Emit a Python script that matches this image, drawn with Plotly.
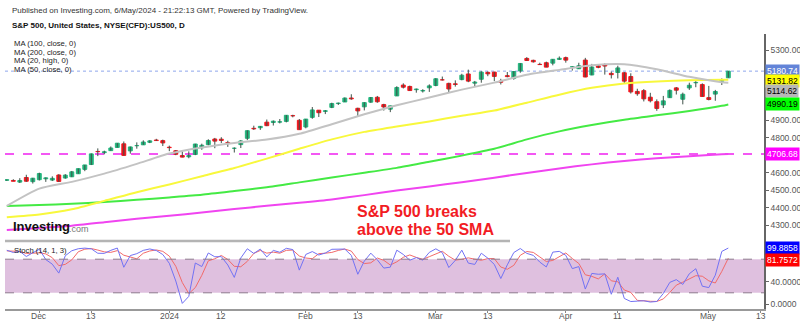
import numpy as np
import plotly.graph_objects as go

# ---------------- data ----------------
dates = [
    "2023-11-24", "2023-11-27", "2023-11-28", "2023-11-29", "2023-11-30",
    "2023-12-01", "2023-12-04", "2023-12-05", "2023-12-06", "2023-12-07", "2023-12-08",
    "2023-12-11", "2023-12-12", "2023-12-13", "2023-12-14", "2023-12-15",
    "2023-12-18", "2023-12-19", "2023-12-20", "2023-12-21", "2023-12-22",
    "2023-12-26", "2023-12-27", "2023-12-28", "2023-12-29",
    "2024-01-02", "2024-01-03", "2024-01-04", "2024-01-05",
    "2024-01-08", "2024-01-09", "2024-01-10", "2024-01-11", "2024-01-12",
    "2024-01-16", "2024-01-17", "2024-01-18", "2024-01-19",
    "2024-01-22", "2024-01-23", "2024-01-24", "2024-01-25", "2024-01-26",
    "2024-01-29", "2024-01-30", "2024-01-31", "2024-02-01", "2024-02-02",
    "2024-02-05", "2024-02-06", "2024-02-07", "2024-02-08", "2024-02-09",
    "2024-02-12", "2024-02-13", "2024-02-14", "2024-02-15", "2024-02-16",
    "2024-02-20", "2024-02-21", "2024-02-22", "2024-02-23",
    "2024-02-26", "2024-02-27", "2024-02-28", "2024-02-29", "2024-03-01",
    "2024-03-04", "2024-03-05", "2024-03-06", "2024-03-07", "2024-03-08",
    "2024-03-11", "2024-03-12", "2024-03-13", "2024-03-14", "2024-03-15",
    "2024-03-18", "2024-03-19", "2024-03-20", "2024-03-21", "2024-03-22",
    "2024-03-25", "2024-03-26", "2024-03-27", "2024-03-28",
    "2024-04-01", "2024-04-02", "2024-04-03", "2024-04-04", "2024-04-05",
    "2024-04-08", "2024-04-09", "2024-04-10", "2024-04-11", "2024-04-12",
    "2024-04-15", "2024-04-16", "2024-04-17", "2024-04-18", "2024-04-19",
    "2024-04-22", "2024-04-23", "2024-04-24", "2024-04-25", "2024-04-26",
    "2024-04-29", "2024-04-30", "2024-05-01", "2024-05-02", "2024-05-03",
    "2024-05-06",
]
opens = [
    4555.84, 4554.86, 4545.55, 4571.84, 4548.04,
    4559.43, 4564.37, 4557.25, 4586.23, 4568.84, 4576.20,
    4593.39, 4618.30, 4646.20, 4721.04, 4714.23,
    4725.58, 4743.72, 4764.73, 4724.29, 4753.92,
    4758.86, 4773.45, 4786.44, 4782.88,
    4745.20, 4725.07, 4697.42, 4690.57,
    4703.70, 4741.93, 4759.94, 4792.13, 4791.18,
    4772.35, 4739.13, 4760.10, 4796.28,
    4853.42, 4856.80, 4888.56, 4886.66, 4888.91,
    4892.95, 4925.89, 4899.19, 4861.11, 4916.06,
    4957.19, 4950.16, 4973.05, 4995.16, 5004.17,
    5026.83, 4967.94, 4976.44, 5003.14, 5031.13,
    4989.32, 4963.03, 5038.83, 5100.92,
    5093.00, 5074.60, 5067.20, 5085.36, 5098.51,
    5130.99, 5110.52, 5108.03, 5132.38, 5164.46,
    5111.96, 5134.30, 5173.49, 5175.14, 5123.31,
    5154.77, 5139.09, 5181.69, 5253.43, 5242.48,
    5219.52, 5228.85, 5226.31, 5248.03,
    5257.97, 5204.29, 5194.37, 5244.05, 5158.95,
    5211.37, 5217.03, 5167.88, 5172.95, 5171.51,
    5149.67, 5064.59, 5068.97, 5031.52, 5005.44,
    4987.33, 5028.85, 5084.86, 5019.88, 5084.65,
    5114.13, 5103.78, 5029.03, 5049.32, 5122.78,
    5142.42,
]
highs = [
    4560.31, 4562.06, 4568.14, 4587.64, 4569.89,
    4599.39, 4572.37, 4578.56, 4590.74, 4590.92, 4609.23,
    4623.71, 4643.93, 4709.69, 4738.57, 4725.53,
    4749.52, 4768.69, 4778.01, 4748.71, 4772.94,
    4784.72, 4785.39, 4793.30, 4788.43,
    4754.33, 4729.29, 4726.78, 4721.49,
    4764.54, 4765.47, 4790.80, 4798.50, 4802.40,
    4782.34, 4744.23, 4785.79, 4842.07,
    4868.41, 4866.48, 4903.68, 4898.15, 4906.69,
    4929.31, 4931.09, 4906.75, 4906.97, 4975.29,
    4957.19, 4957.77, 4999.89, 5000.40, 5030.06,
    5048.39, 4971.30, 5002.52, 5032.72, 5038.70,
    4993.71, 4983.21, 5094.39, 5111.06,
    5097.66, 5080.69, 5077.37, 5104.99, 5140.33,
    5149.67, 5114.54, 5127.97, 5165.62, 5189.26,
    5124.66, 5179.87, 5179.14, 5176.85, 5136.86,
    5175.60, 5180.31, 5226.19, 5261.10, 5246.09,
    5229.09, 5235.16, 5249.26, 5264.85,
    5263.95, 5208.34, 5228.75, 5256.59, 5222.18,
    5219.57, 5224.81, 5178.43, 5211.78, 5175.03,
    5168.43, 5079.84, 5077.96, 5056.66, 5019.02,
    5038.84, 5076.12, 5089.48, 5057.75, 5114.62,
    5123.49, 5110.83, 5096.12, 5073.21, 5139.12,
    5181.00,
]
lows = [
    4552.80, 4551.01, 4540.51, 4547.15, 4537.24,
    4554.71, 4546.72, 4551.68, 4546.50, 4565.22, 4574.06,
    4593.39, 4608.09, 4643.23, 4694.34, 4704.69,
    4725.58, 4743.72, 4697.82, 4708.35, 4736.77,
    4758.45, 4768.90, 4780.98, 4751.99,
    4722.67, 4699.71, 4687.53, 4682.11,
    4699.82, 4730.35, 4756.20, 4739.58, 4768.98,
    4747.12, 4714.82, 4740.57, 4785.87,
    4844.05, 4844.37, 4865.94, 4869.34, 4881.47,
    4887.40, 4916.27, 4845.15, 4853.52, 4907.99,
    4918.09, 4934.88, 4969.05, 4987.09, 5004.17,
    5016.83, 4920.31, 4955.87, 4999.44, 4999.52,
    4955.02, 4946.00, 5038.83, 5081.46,
    5068.91, 5057.29, 5058.35, 5061.89, 5094.16,
    5127.18, 5056.82, 5092.22, 5128.21, 5117.50,
    5091.14, 5114.48, 5151.88, 5123.30, 5104.35,
    5145.47, 5131.59, 5171.55, 5240.66, 5229.87,
    5216.09, 5203.42, 5213.92, 5245.82,
    5229.20, 5184.05, 5194.37, 5146.06, 5157.21,
    5197.35, 5160.78, 5138.70, 5138.77, 5107.94,
    5052.47, 5039.83, 5007.25, 5001.89, 4953.56,
    4969.40, 5027.96, 5047.02, 4990.58, 5073.14,
    5088.65, 5035.31, 5013.45, 5011.05, 5101.22,
    5142.42,
]
closes = [
    4559.34, 4550.43, 4554.89, 4550.58, 4567.80,
    4594.63, 4569.78, 4567.18, 4549.34, 4585.59, 4604.37,
    4622.44, 4643.70, 4707.09, 4719.55, 4719.19,
    4740.56, 4768.37, 4698.35, 4746.75, 4754.63,
    4774.75, 4781.58, 4783.35, 4769.83,
    4742.83, 4704.81, 4688.68, 4697.24,
    4763.54, 4756.50, 4783.45, 4780.24, 4783.83,
    4765.98, 4739.21, 4780.94, 4839.81,
    4850.43, 4864.60, 4868.55, 4894.16, 4890.97,
    4927.93, 4924.97, 4845.65, 4906.19, 4958.61,
    4942.81, 4954.23, 4995.06, 4997.91, 5026.61,
    5021.84, 4953.17, 5000.62, 5029.73, 5005.57,
    4975.51, 4981.80, 5087.03, 5088.80,
    5069.53, 5078.18, 5069.76, 5096.27, 5137.08,
    5130.95, 5078.65, 5104.76, 5157.36, 5123.69,
    5117.94, 5175.27, 5165.31, 5150.48, 5117.09,
    5149.42, 5178.51, 5224.62, 5241.53, 5234.18,
    5218.19, 5203.58, 5248.49, 5254.35,
    5243.77, 5205.81, 5211.49, 5147.21, 5204.34,
    5202.39, 5209.91, 5160.64, 5199.06, 5123.41,
    5061.82, 5051.41, 5022.21, 5011.12, 4967.23,
    5010.60, 5070.55, 5071.63, 5048.42, 5099.96,
    5116.17, 5035.69, 5018.39, 5064.20, 5127.79,
    5180.74,
]

# Stochastic (14, 1, 3): %K and %D per session
stoch_k = [96.0, 92.0, 94.0, 84.8, 91.5, 97.7, 79.3, 71.1, 55.1, 86.2, 95.1, 98.7, 99.8, 98.5, 90.6, 90.4,
           95.8, 99.9, 65.6, 86.5, 89.9, 95.8, 98.3, 95.5, 88.3, 72.7, 41.0, 1.1, 13.6, 73.2, 66.9, 91.1,
           84.3, 84.6, 69.7, 47.5, 82.2, 98.6, 90.3, 98.0, 84.1, 95.7, 92.4, 99.4, 97.2, 60.5, 88.5, 93.6,
           87.5, 91.0, 97.7, 98.4, 98.1, 86.9, 53.1, 76.5, 90.8, 78.9, 64.1, 65.8, 96.1, 88.5, 78.2, 82.8,
           78.3, 92.2, 98.5, 91.8, 65.1, 77.9, 96.2, 73.0, 70.7, 90.7, 81.9, 70.7, 45.5, 69.9, 91.9, 99.1,
           90.4, 86.8, 74.8, 66.2, 92.6, 94.0, 86.9, 63.2, 66.8, 26.7, 54.6, 53.1, 53.8, 17.4, 47.8, 9.9,
           4.4, 5.1, 5.8, 3.5, 4.5, 18.8, 38.6, 43.5, 35.0, 54.0, 63.0, 31.8, 29.3, 51.5, 93.9, 99.8858]
stoch_d = [94.8, 94.3, 94.0, 90.2, 90.1, 91.3, 89.5, 82.7, 68.5, 70.8, 78.8, 93.3, 97.9, 99.0, 96.3, 93.1,
           92.2, 95.3, 87.1, 84.0, 80.7, 90.7, 94.7, 96.5, 94.0, 85.5, 67.3, 38.3, 18.6, 29.3, 51.2, 77.1,
           80.8, 86.7, 79.5, 67.3, 66.5, 76.1, 90.4, 95.6, 90.8, 92.6, 90.7, 95.8, 96.3, 85.7, 82.1, 80.9,
           89.9, 90.7, 92.1, 95.7, 98.1, 94.5, 79.4, 72.2, 73.5, 82.1, 78.0, 69.6, 75.3, 83.4, 87.6, 83.2,
           79.8, 84.5, 89.7, 94.2, 85.2, 78.3, 79.8, 82.4, 80.0, 78.1, 81.1, 81.1, 66.0, 62.0, 69.1, 87.0,
           93.8, 92.1, 84.0, 75.9, 77.8, 84.2, 91.1, 81.3, 72.3, 52.2, 49.4, 44.8, 53.8, 41.4, 39.7, 25.0,
           20.7, 6.5, 5.1, 4.8, 4.6, 9.0, 20.6, 33.7, 39.0, 44.2, 50.6, 49.6, 41.4, 37.5, 58.2, 81.7572]

# moving averages read at every 5th session (+ last)
ma20_high = [4409, 4508, 4547, 4594, 4650, 4709, 4744, 4770, 4789, 4822, 4877, 4934,
             4985, 5030, 5075, 5115, 5160, 5188, 5214, 5220, 5191, 5148, 5117, 5114.62]
ma50 = [4344, 4360, 4390, 4438, 4488, 4532, 4579, 4626, 4680, 4736, 4790, 4833,
        4864, 4893, 4925, 4955, 5000, 5046, 5085, 5110, 5122, 5128, 5131, 5131.82]
ma100 = [4409, 4414, 4421, 4432, 4444, 4458, 4473, 4494, 4516, 4544, 4572, 4599,
         4627, 4662, 4697, 4736, 4790, 4836, 4872, 4903, 4928, 4952, 4982, 4990.19]
ma200 = [4271, 4283, 4296, 4316, 4336, 4353, 4371, 4391, 4410, 4427, 4446, 4471,
         4497, 4521, 4545, 4571, 4598, 4624, 4647, 4667, 4682, 4694, 4705, 4706.68]
ma_dates = dates[::5] + [dates[-1]]

tick_dates = ["2023-12-01", "2023-12-13", "2024-01-02", "2024-01-12", "2024-02-01", "2024-02-13",
              "2024-03-01", "2024-03-13", "2024-04-01", "2024-04-11", "2024-05-01", "2024-05-13"]
tick_text = ["Dec", "13", "2024", "12", "Feb", "13", "Mar", "13", "Apr", "11", "May", "13"]
holidays = ["2023-12-25", "2024-01-01", "2024-01-15", "2024-02-19", "2024-03-29"]
price_ticks = [4300, 4400, 4500, 4600, 4800, 4900, 5300]
stoch_ticks = [0, 40]
stoch_levels = [20, 80]

assert len(dates) == len(opens) == len(highs) == len(lows) == len(closes) == len(stoch_k) == len(stoch_d)

# ---------------- helpers ----------------
def pos(d):
    return int(np.busday_count(dates[0], d, holidays=holidays))

xs = [pos(d) for d in dates]
ma_x = [pos(d) for d in ma_dates]
tick_x = [pos(d) for d in tick_dates]

W, Hh = 800, 323
ML, MR, MT, MB = 5, 36, 34, 14
PW, PH = W - ML - MR, Hh - MT - MB
def px(x):
    return (x - ML) / PW
def py(y):
    return (Hh - MB - y) / PH

split = py(241)
UP, DN = "#22b47c", "#f2141c"
FONT = "Liberation Sans, Arial, sans-serif"

fig = go.Figure()

# wicks
wx, wy = [], []
for x, h, l in zip(xs, highs, lows):
    wx += [x, x, None]
    wy += [l, h, None]
fig.add_trace(go.Scatter(x=wx, y=wy, mode="lines", line=dict(color="#3f5249", width=1),
                         hoverinfo="skip", xaxis="x", yaxis="y"))

# MAs
for vals, col in [(ma200, "#f044f0"), (ma100, "#44ea44"), (ma50, "#f8f83c"), (ma20_high, "#c3c3c3")]:
    fig.add_trace(go.Scatter(x=ma_x, y=vals, mode="lines",
                             line=dict(color=col, width=2, shape="spline", smoothing=0.6),
                             hoverinfo="skip", xaxis="x", yaxis="y"))

# bodies
cols = [UP if c >= o else DN for o, c in zip(opens, closes)]
fig.add_trace(go.Bar(x=xs, y=[abs(c - o) for o, c in zip(opens, closes)],
                     base=[min(o, c) for o, c in zip(opens, closes)],
                     width=0.6, marker=dict(color=cols, line=dict(color=cols, width=1)),
                     hoverinfo="skip", xaxis="x", yaxis="y"))

# stochastic
fig.add_trace(go.Scatter(x=xs, y=stoch_d, mode="lines", line=dict(color="#f26a6a", width=1),
                         hoverinfo="skip", xaxis="x", yaxis="y2"))
fig.add_trace(go.Scatter(x=xs, y=stoch_k, mode="lines", line=dict(color="#7272f4", width=1),
                         hoverinfo="skip", xaxis="x", yaxis="y2"))

shapes = [
    dict(type="rect", xref="paper", x0=0, x1=1, yref="y2", y0=stoch_levels[0], y1=stoch_levels[1],
         fillcolor="#dfc0df", line=dict(width=0), layer="below"),
    dict(type="line", xref="paper", x0=0, x1=1, yref="y2", y0=stoch_levels[0], y1=stoch_levels[0],
         line=dict(color="#8d7a8d", width=1, dash="dash")),
    dict(type="line", xref="paper", x0=0, x1=1, yref="y2", y0=stoch_levels[1], y1=stoch_levels[1],
         line=dict(color="#8d7a8d", width=1, dash="dash")),
    dict(type="line", xref="paper", x0=0, x1=1, yref="y", y0=closes[-1], y1=closes[-1],
         line=dict(color="#8fa6ec", width=1, dash="dot"), layer="below"),
    dict(type="line", xref="paper", x0=0, x1=1, yref="y", y0=ma200[-1], y1=ma200[-1],
         line=dict(color="#f020f0", width=1.5, dash="dash"), layer="below"),
    dict(type="line", xref="paper", x0=0, x1=px(510), yref="paper", y0=split, y1=split,
         line=dict(color="#b4b4b4", width=2.5)),
]

ann = []
def txt(x, y, s, size, color="#222", anchor="left"):
    ann.append(dict(x=px(x), y=py(y), xref="paper", yref="paper", text=s, showarrow=False,
                    xanchor=anchor, yanchor="middle", font=dict(size=size, color=color, family=FONT)))

txt(10, 10, "Published on Investing.com, 6/May/2024 - 21:22:13 GMT, Powered by TradingView.", 8, "#333")
txt(10, 25, "<b>S&amp;P 500, United States, NYSE(CFD):US500, D</b>", 8, "#111")
for yy, s in zip([43.5, 52.2, 60.8, 69.4],
                 ["MA (100, close, 0)", "MA (200, close, 0)", "MA (20, high, 0)", "MA (50, close, 0)"]):
    txt(12, yy, s, 7.7, "#222")
txt(12, 250.5, "Stoch (14, 1, 3)", 7.7, "#222")
txt(355, 211.5, "<b>S&amp;P 500 breaks</b>", 16, "#f21c24")
txt(355, 230, "<b>above the 50 SMA</b>", 16, "#f21c24")
txt(11, 226, "<b>Investing</b>", 13, "#111")
txt(67, 228.5, ".com", 9, "#777")

# x-axis labels placed at their session positions
for tx, tt in zip(tick_x, tick_text):
    ann.append(dict(x=tx, xref="x", y=py(315.5), yref="paper", text=tt, showarrow=False,
                    xanchor="center", yanchor="middle",
                    font=dict(size=8.5, color="#555", family=FONT)))

def tag(val, yref, bg, fg, label, shift=0):
    ann.append(dict(x=1, xref="paper", y=val, yref=yref, text=label, showarrow=False,
                    xanchor="left", yanchor="middle", xshift=1, yshift=shift, bgcolor=bg,
                    borderpad=1, font=dict(size=8.5, color=fg, family=FONT)))

tag(closes[-1], "y", "#6384d8", "white", f"{closes[-1]:.2f}")
tag(ma50[-1], "y", "#ffff00", "black", f"{ma50[-1]:.2f}", -1)
tag(ma20_high[-1], "y", "#b8b8b8", "black", f"{ma20_high[-1]:.2f}", -8)
tag(ma100[-1], "y", "#00ff00", "black", f"{ma100[-1]:.2f}")
tag(ma200[-1], "y", "#ff00ff", "white", f"{ma200[-1]:.2f}")
tag(stoch_k[-1], "y2", "#0000ff", "white", f"{stoch_k[-1]:.4f}")
tag(stoch_d[-1], "y2", "#ff0000", "white", f"{stoch_d[-1]:.4f}", -2)

pr_top = 5300 + (50.3 - MT) / 0.1747
pr_bot = 5300 - (241 - 50.3) / 0.1747
st_top = (304 - 241) / 0.56
st_bot = (304 - (Hh - MB)) / 0.56

axfont = dict(size=8.5, color="#555", family=FONT)
fig.update_layout(
    template="none", width=W, height=Hh, autosize=False,
    margin=dict(l=ML, r=MR, t=MT, b=MB),
    paper_bgcolor="white", plot_bgcolor="white", showlegend=False, barmode="overlay",
    shapes=shapes, annotations=ann,
    xaxis=dict(domain=[0, 1], anchor="y2", range=[(ML - 6.8) / 6.5, (W - MR - 6.8) / 6.5],
               tickvals=tick_x, showticklabels=False,
               ticks="outside", ticklen=2, tickcolor="#888", showline=True, linecolor="#999",
               linewidth=1.5, showgrid=False, zeroline=False, automargin=False),
    yaxis=dict(domain=[split, 1], anchor="x", side="right", range=[pr_bot, pr_top],
               tickvals=price_ticks, tickformat=".2f", tickfont=axfont, ticks="outside", ticklen=3,
               tickcolor="#666", showline=True, linecolor="#666", linewidth=1.5,
               showgrid=False, zeroline=False, automargin=False),
    yaxis2=dict(domain=[0, split], anchor="x", side="right", range=[st_bot, st_top],
                tickvals=stoch_ticks, tickformat=".4f", tickfont=axfont, ticks="outside", ticklen=3,
                tickcolor="#666", showline=True, linecolor="#666", linewidth=1.5,
                showgrid=False, zeroline=False, automargin=False),
)
fig.write_html("out.html")
